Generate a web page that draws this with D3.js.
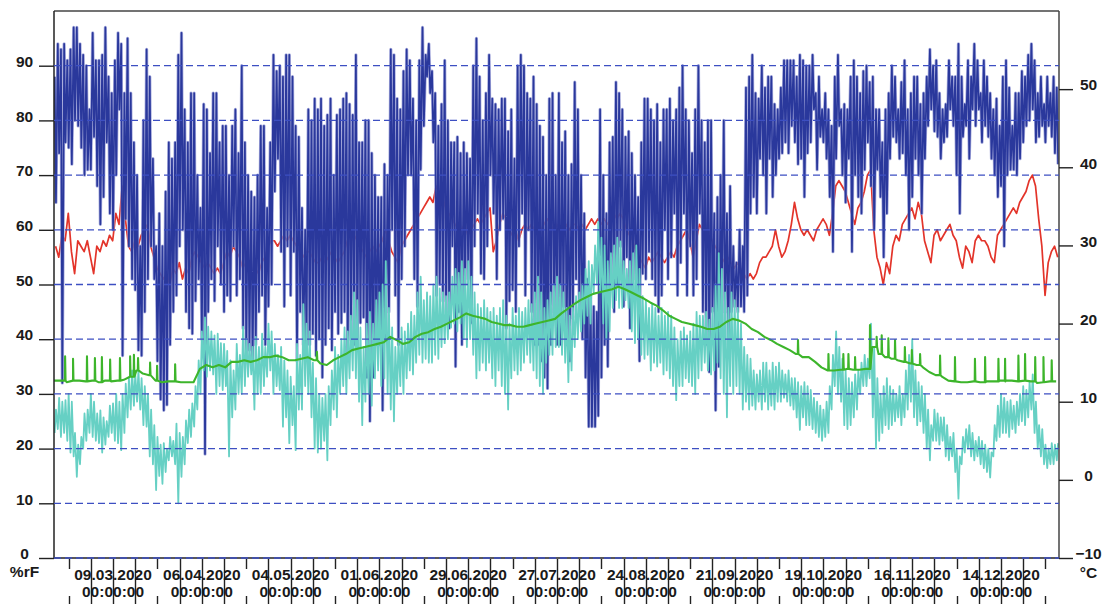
<!DOCTYPE html>
<html><head><meta charset="utf-8">
<script src="https://cdn.jsdelivr.net/npm/d3@7"></script>
<style>
html,body{margin:0;padding:0;background:#fff;}
svg{display:block;}
text{font-family:"Liberation Sans",Arial,sans-serif;font-weight:bold;fill:#1a1a1a;}
</style></head><body>
<svg id="chart" width="1105" height="604"></svg>
<script>
// ---- data ----
const startTime = "2020-02-19T09:20:00";
const endTime = "2021-01-01T07:00:00";
const humidityTicks = [0,10,20,30,40,50,60,70,80,90];
const tempTicks = [-10,0,10,20,30,40,50];
const dateLabels = ["09.03.2020","06.04.2020","04.05.2020","01.06.2020","29.06.2020","27.07.2020","24.08.2020","21.09.2020","19.10.2020","16.11.2020","14.12.2020"];
const timeLabel = "00:00:00";
const leftUnit = "%rF";
const rightUnit = "°C";

// outdoor humidity (%rF): daily high / low
const blueHigh = [88,94,93,94,91,93,97,97,94,92, 90,82,96,91,91,92,97,88,85,91, 96,94,85,95,85,76,70,57,80,93, 88,73,57,63,57,67,76,73,76,92, 96,82,76,85,85,70,64,83,82,74, 85,85,76,79,79,70,79,82,74,90, 76,70,67,66,70,79,79,64,76,92, 89,90,88,92,92,88,79,77,64,60,
82,80,84,82,84,79,81,84,70,81,82,84,85,83,81,92, 76,76,80,80,74,70,66,66, 72, 70,93,92,84,82,89,93,91,84,80,91,97,92,94,89,85,79,83,91, 80, 76,76,77,74,76,74,73,90,95,88,80,85,92,84,83,82,84,84, 78, 82,73,90,92,90,85,84,88,83,79,77,70, 84,85,70,
85,76,78,70,72,87,82,70,63,51, 48, 46,45,82,70,63,76,77,87,85,82,77,78,74,70,66,76,84,84,82, 80, 83,76,82,82,84,80,82,86,90,82,80,74,82,90,80,76,80,80,63, 66, 70,80,63,68,57,54,60,57,86,88,92,85,84,90,86,88,88,83,82, 86, 91,91,91,91,88,92,91,90,
90,92,85,88,82,85,82,79,88,92,82,83,82,88,91,88,85,89,90, 87, 88,82,82,76,82,85,90,88,82,87,91,82,85,88,88,83,85,88,93, 90, 91,85,82,83,91,88,88,94,88,83,91,88,94,91,85,91,88,85,82, 84, 79,88,91,86,79,85,85,89,88,92,94,91,85,88,83,88,85,88, 86];
const blueLow = [65,74,32,76,75,72,80,79,75,70, 71,71,77,68,61,66,76,63,60,70, 82,37,62,57,51,49,38,37,45,51, 57,51,36,29,27,28,39,45,48,57, 60,45,42,41,47,51,40,19,45,51, 47,57,50,45,48,47,57,48,51,42, 37,38,36,39,45,48,39,46,50,67, 73,56,46,57,48,56,36,45,39,39,
39,41,37,40,33,39,42,38,45,41,43,45,36,40,39,39, 43,44,33,25,33,39,39,27, 40, 45,60,48,39,51,57,70,70,51,46,71,79,88,85,76,48,50,47,45, 42, 57,35,45,39,50,51,43,57,63,52,51,57,70,63,51,60,62,42, 47, 49,45,57,63,48,60,45,39,39,36,33,31, 39,45,39,
39,46,39,36,44,51,45,40,33,24, 24, 24,26,33,39,35,50,45,50,57,46,55,42,51,49,36,52,51,56,51, 48, 45,48,60,51,55,63,48,54,63,48,57,48,51,63,45,39,34,45,27, 35, 42,45,39,45,46,45,46,45,48,63,66,63,73,70,63,73,66,70,73, 74, 76,74,79,76,72,73,66,74,
76,82,71,77,76,73,66,56,73,79,70,65,73,56,70,66,63,71,76, 68, 60,71,66,55,63,73,77,76,73,74,70,60,66,73,70,63,73,79,82, 78, 77,73,76,77,82,79,70,63,77,79,73,82,79,82,76,79,77,73,70, 66, 68,57,70,71,71,70,73,76,79,80,82,76,77,79,76,79,77,74, 72];

// indoor humidity (%rF): daily
const redDaily = [57,55,59,58,63,56,52,58,57,56, 58,55,52,57,56,58,57,59,58,63, 61,68,62,57,56,58,57,59,60,61, 57,55,53,52,51,52,50,53,52,54, 51,53,52,55,56,55,54,53,54,53, 52,53,52,54,56,55,57,56,55,53, 54,52,51,53,52,54,55,57,58,58, 57,58,59,58,59,58,57,56,55,56,
56,55,54,54,55,54,55,56,55,54, 55,56,58,59,58,59,57,56,55,56, 57,56,57,58,60,58,56,55,54,57, 58,59,60,61,62,63,64,65,66,65, 68,67,66,64,63,62,61,60,60,61, 59,60,61,62,61,62,63,64,56,58, 61,63,62,60,59,60,58,60,61,60, 61,60,61,60,61,62,61,60,61,60,
60,61,60,61,61,60,61,60,61,62, 61,62,61,62,61,62,63,62,63,62, 60,59,58,56,55,54,53,55,54,55, 56,55,54,55,56,55,57,58,59,60, 58,55,58,61,60,59,60,58,57,56, 55,54,55,54,53,54,53,52,51,52, 51,52,54,55,55,56,57,60,57,55, 56,58,61,65,62,60,59,60,
59,58,60,61,62,61,59,63,68,69, 68,67,65,63,61,64,65,67,70,71, 60,55,53,50,54,52,57,59,58,61, 62,63,64,62,65,63,58,56,54,59, 60,58,59,60,61,59,58,55,53,57, 56,54,58,59,58,58,57,55,54,59, 60,61,62,63,64,63,65,66,67,69, 70,68,62,57,48,54,56,57,55];

// outdoor temperature (°C): daily min / max
const cyanMin = [6.0,6.5,5.5,6.0,5.0,3.5,3.0,0.4,2.0,4.0, 5.0,6.0,5.5,5.0,4.7,3.5,4.5,5.5,6.0,5.0, 4.7,3.8,6.0,8.0,9.0,9.5,10.0,9.0,7.0,6.8, 3.0,2.0,-1.3,0.5,-0.5,1.0,2.5,3.0,2.0,-3.0, 0.4,2.0,4.7,5.5,6.8,9.0,11.0,14.0,13.2,14.0, 13.5,11.0,12.0,11.5,12.0,3.0,8.0,9.0,11.0,11.0, 12.0,13.2,13.5,9.0,11.0,11.0,12.0,13.2,14.0,11.0, 12.0,11.5,6.8,8.0,4.7,7.0,3.8,9.0,9.0,12.0,
11.0,8.0,4.0,3.5,4.0,5.0,2.5,7.0,9.0,8.0, 11.0,12.0,11.0,13.0,14.0,13.0,10.0,7.0,10.0,11.0, 9.5,13.0,14.0,12.0,13.0,11.0,9.0,7.5,11.0,12.0, 11.0,13.0,14.0,13.5,15.0,16.0,15.0,15.5,15.0,15.0, 16.0,15.5,17.0,17.5,18.0,19.5,20.0,19.0,20.0,18.0, 17.0,18.0,16.0,13.0,14.0,15.0,14.0,15.0,13.0,12.0, 14.0,12.0,11.0,9.0,13.0,14.0,13.5,14.0,15.0,16.0, 15.0,14.0,13.0,12.0,11.0,15.0,16.0,16.0,17.0,17.0,
16.0,15.0,12.5,14.0,17.0,18.0,19.0,20.0,21.0,20.0, 24.0,25.0,24.0,20.0,18.0,19.0,22.0,23.0,22.0,22.0, 23.0,22.0,19.0,17.5,18.0,16.0,15.5,16.0,14.0,15.0, 14.5,15.0,13.5,14.0,13.0,12.0,10.2,12.0,12.0,13.0, 12.5,12.0,11.0,13.0,14.0,15.0,14.0,13.5,14.0,15.0, 13.0,11.0,8.0,12.0,11.0,12.0,11.0,9.0,10.0,9.0, 9.5,9.0,10.0,9.0,10.0,9.0,9.5,9.0,10.0,10.0, 10.5,10.0,9.5,9.0,8.0,6.4,8.0,7.0,
7.0,6.5,6.0,5.5,5.0,5.5,6.0,9.0,12.0,11.0, 10.0,7.0,6.5,7.0,8.0,9.0,11.0,12.0,12.0,13.0, 8.0,4.0,5.0,6.0,7.0,6.5,7.0,7.5,8.0,7.0, 8.0,9.0,10.0,8.0,7.0,7.5,6.0,4.0,2.5,5.0, 5.0,4.5,5.0,3.0,2.5,3.0,1.0,-2.4,2.0,3.5, 4.0,3.0,2.5,3.0,2.0,1.5,1.0,0.3, 3.0,5.0,5.5,6.0,6.0,5.5,6.5,6.0,7.0,7.5,7.0,8.0,9.0,6.0,4.0,3.0,2.0,1.5,2.0,2.0,2.5];
const cyanMax = [9.0,10.5,10.0,10.2,11.0,10.0,6.0,4.5,5.5,8.5, 9.0,11.0,10.0,8.5,8.9,8.0,7.5,9.5,9.8,11.0, 10.0,11.0,12.3,13.0,14.0,13.5,14.0,13.0,12.0,11.0, 9.0,7.0,5.5,4.5,4.7,4.0,5.5,5.0,7.2,6.0, 5.5,7.6,9.0,9.8,12.0,15.3,19.0,20.8,19.6,19.0, 18.5,18.7,17.5,17.4,16.5,15.3,14.0,17.4,16.0,19.6, 18.0,17.4,17.0,18.3,17.0,18.7,17.0,20.0,19.0,17.4, 16.0,17.0,15.3,14.0,13.2,12.0,17.4,16.0,22.5,20.0,
19.0,15.0,13.0,11.0,10.5,11.0,12.0,14.0,17.0,16.0, 18.0,19.5,19.0,21.0,24.0,23.0,19.5,17.0,20.0,21.5, 20.0,23.0,24.0,25.0,28.0,22.0,19.5,17.0,18.0,19.5, 19.0,20.0,21.5,21.0,24.0,26.0,23.0,24.0,23.5,25.0, 26.0,24.5,24.0,23.5,24.0,26.0,27.0,26.5,28.0,27.0, 28.0,26.0,24.0,22.5,22.0,23.0,22.0,21.5,22.0,21.0, 22.0,23.0,21.0,20.0,22.0,21.0,22.0,21.5,22.0,23.0, 22.5,24.0,26.0,24.0,22.0,23.0,24.0,25.0,26.0,25.0,
24.0,22.0,21.0,22.0,23.5,24.0,25.0,27.0,28.0,27.5, 30.0,33.0,31.0,30.0,28.0,29.0,30.0,31.0,30.5,28.0, 27.0,28.0,29.0,30.0,27.0,23.5,23.0,22.0,22.5,22.0, 21.0,22.0,21.0,21.5,21.0,19.5,18.0,19.0,19.5,18.5, 19.0,20.0,21.5,21.0,21.0,21.5,20.5,22.0,25.0,29.0, 27.0,24.0,22.0,24.0,23.0,22.0,20.0,17.0,16.0,15.5, 14.0,13.5,14.0,15.0,15.0,14.0,15.0,14.5,15.0,14.0, 13.5,14.0,13.0,13.0,12.5,12.0,12.5,12.0,
11.5,10.5,10.0,9.5,9.0,10.0,12.0,16.0,19.0,17.0, 15.5,14.0,13.0,12.5,13.5,14.0,15.0,16.0,15.5,20.0, 17.0,13.0,11.0,12.0,13.0,12.0,11.5,11.0,12.0,11.0, 14.0,16.0,18.0,14.0,12.5,12.0,11.0,9.0,7.0,9.0, 8.5,8.0,8.0,7.0,5.5,6.0,4.0,3.0,5.5,6.5, 7.0,6.0,5.0,5.5,5.0,4.5,4.0,3.5, 7.0,9.5,11.0,10.5,10.0,10.2,9.5,10.0,11.0,12.0,11.5,12.5,13.5,10.0,7.0,6.5,4.5,4.0,4.7,4.5,4.7];

// indoor temperature (°C): every second day, plus short heating spikes [day, peak]
const greenBase = [12.7,12.7,12.5,12.7,12.7,12.6,12.7,12.5,12.7,12.6, 12.7,12.8,13.2,14.0,13.6,13.4,12.7,12.5,12.6,12.6, 12.5,12.5,12.5,14.2,14.7,14.4,14.7,14.4,15.1,15.1, 15.3,15.1,15.3,15.7,15.7,15.9,15.7,15.3,15.3,15.5,
15.7,15.3,14.9,14.7,15.3,15.7,16.1,16.6,16.8,17.0, 17.2,17.4,17.6,18.3,17.9,17.4,17.6,18.3,18.7,18.9, 19.3,19.6,20.0,20.4,20.8,21.3,21.0,20.8,20.6,20.2, 20.0,19.8,19.8,19.6,19.6,19.8,20.0,20.2,20.4,20.6,
21.3,21.9,22.5,23.0,23.4,23.8,24.0,24.2,24.4,24.7, 24.4,24.0,23.6,23.2,22.7,22.3,21.7,21.0,20.6,20.2, 20.0,19.8,19.6,19.3,19.3,19.6,20.2,20.6,20.4,20.0, 19.3,18.9,18.3,17.9,17.4,17.0,16.6,16.1,15.7,
15.7,15.1,14.4,14.0,14.0,14.1,14.2,14.1,14.1,14.2, 17.0,16.1,15.7,15.5,15.3,15.1,14.9,14.7,14.4,13.8, 13.4,13.2,12.7,12.6,12.5,12.5,12.6,12.5,12.6,12.6, 12.7,12.6,12.7,12.6,12.7,12.6,12.4,12.5,12.6,12.6];
const greenSpikes = [[3.5,15.8],[6.0,15.5],[10.4,15.8],[12.9,15.6],[15.1,15.7],[17.7,15.4],[20.8,15.6],[24.0,15.8],[25.2,16.0],[26.5,15.6],[30.3,15.0],[32.5,14.6],[38.2,14.8],[82.9,16.4],[234.6,17.9],
[244.2,16.1],[248.9,16.1],[250.5,16.1],[252.6,15.7],[257.3,19.8],[259.4,18.3],[261.0,18.5],[263.1,18.1],[265.2,17.9],[268.3,17.0],[270.5,16.6],[273.1,16.1],[279.4,15.9],[284.1,15.7],[290.4,15.5],[293.6,15.7],[297.8,15.5],[299.9,15.5],[304.1,15.9],[306.2,16.1],[309.4,15.7],[312.0,15.7],[314.6,15.3]];

// ---- chart ----
const parseT = d3.timeParse("%Y-%m-%dT%H:%M:%S");
const parseD = d3.timeParse("%d.%m.%Y");
const t0 = parseT(startTime), t1 = parseT(endTime);
const DAY = 864e5;
const tAt = d => new Date(t0.getTime() + d * DAY);

const svg = d3.select("#chart");
const M = {l: 54, r: 1059, t: 11, b: 558};
const x = d3.scaleTime().domain([t0, t1]).range([M.l, M.r]);
const yH = d3.scaleLinear().domain([0, 100]).range([M.b, M.t]);
const yT = d3.scaleLinear().domain([-10, 60]).range([M.b, M.t]);

svg.append("rect").attr("width", 1105).attr("height", 604).attr("fill", "#fff");
svg.append("clipPath").attr("id", "clip").append("rect")
  .attr("x", M.l).attr("y", M.t).attr("width", M.r - M.l).attr("height", M.b - M.t);

const blueData = blueHigh.flatMap((h, d) => [{t: tAt(d + 0.2), v: h}, {t: tAt(d + 0.62), v: blueLow[d]}]);
const cyanData = cyanMin.flatMap((m, d) => [{t: tAt(d + 0.2), v: m}, {t: tAt(d + 0.62), v: cyanMax[d]}]);
const redData = redDaily.map((v, d) => ({t: tAt(d + 0.5), v}));
let greenPts = greenBase.map((v, i) => ({d: i * 2, v}));
greenSpikes.forEach(([s, p]) => {
  const b = greenBase[Math.min(greenBase.length - 1, Math.floor(s / 2))];
  greenPts.push({d: s - 0.07, v: b}, {d: s, v: p}, {d: s + 0.14, v: b});
});
greenPts.sort((a, b) => a.d - b.d);
const greenData = greenPts.map(p => ({t: tAt(p.d), v: p.v}));

const lineH = d3.line().x(d => x(d.t)).y(d => yH(d.v));
const lineT = d3.line().x(d => x(d.t)).y(d => yT(d.v));

const plot = svg.append("g").attr("clip-path", "url(#clip)");
plot.append("path").datum(redData).attr("d", lineH).attr("fill", "none")
  .attr("stroke", "#e3342a").attr("stroke-width", 1.7).attr("stroke-linejoin", "round");
plot.append("path").datum(blueData).attr("d", lineH).attr("fill", "none")
  .attr("stroke", "#8d93d3").attr("stroke-width", 3.2).attr("stroke-linejoin", "round").attr("stroke-opacity", 0.75);
plot.append("path").datum(blueData).attr("d", lineH).attr("fill", "none")
  .attr("stroke", "#2a389c").attr("stroke-width", 1.7).attr("stroke-linejoin", "round");
plot.append("path").datum(cyanData).attr("d", lineT).attr("fill", "none")
  .attr("stroke", "#66d0c4").attr("stroke-width", 1.8).attr("stroke-linejoin", "round");
plot.append("path").datum(greenData).attr("d", lineT).attr("fill", "none")
  .attr("stroke", "#3db52b").attr("stroke-width", 2.1).attr("stroke-linejoin", "round");

// frame
const frame = svg.append("g").attr("stroke", "#222").attr("stroke-width", 1.5);
frame.append("line").attr("x1", M.l).attr("x2", M.r).attr("y1", M.t).attr("y2", M.t).attr("stroke", "#444");
frame.append("line").attr("x1", M.l).attr("x2", M.l).attr("y1", M.t).attr("y2", M.b);
frame.append("line").attr("x1", M.r).attr("x2", M.r).attr("y1", M.t).attr("y2", M.b).attr("stroke", "#444");
frame.append("line").attr("x1", M.l).attr("x2", M.r).attr("y1", M.b).attr("y2", M.b);

// grid (dashed, drawn on top)
svg.append("g").selectAll("line").data(humidityTicks).join("line")
  .attr("x1", M.l).attr("x2", M.r).attr("y1", d => yH(d)).attr("y2", d => yH(d))
  .attr("stroke", "#3d4fc2").attr("stroke-width", 1.3).attr("stroke-dasharray", "7,4");

// left axis
const gL = svg.append("g").attr("transform", `translate(${M.l},0)`)
  .call(d3.axisLeft(yH).tickValues(humidityTicks).tickSize(15).tickFormat(d3.format("d")));
gL.attr("font-size", null).attr("font-family", null);
gL.select(".domain").remove();
gL.selectAll(".tick line").attr("stroke", "#222").attr("stroke-width", 1.4);
gL.selectAll(".tick text").attr("x", 24.5 - M.l).attr("dy", "0.05em").attr("text-anchor", "middle")
  .style("font-size", "15.5px").attr("fill", "#1a1a1a");

// right axis
const gR = svg.append("g").attr("transform", `translate(${M.r},0)`)
  .call(d3.axisRight(yT).tickValues(tempTicks).tickSize(14).tickFormat(d3.format("d")));
gR.attr("font-size", null).attr("font-family", null);
gR.select(".domain").remove();
gR.selectAll(".tick line").attr("stroke", "#222").attr("stroke-width", 1.4);
gR.selectAll(".tick text").attr("x", 1088.5 - M.r).attr("dy", "0.05em").attr("text-anchor", "middle")
  .style("font-size", "15.5px").attr("fill", "#1a1a1a");

// units
svg.append("text").attr("x", 24.5).attr("y", 577).attr("text-anchor", "middle").style("font-size", "15.5px").text(leftUnit);
svg.append("text").attr("x", 1088.5).attr("y", 578).attr("text-anchor", "middle").style("font-size", "15.5px").text(rightUnit);

// bottom axis: weekly ticks, labels every 4 weeks
const firstLabel = parseD(dateLabels[0]);
const mondays = d3.timeMonday.range(t0, t1);
const gB = svg.append("g").attr("stroke", "#222").attr("stroke-width", 1.4);
mondays.forEach(m => {
  const k = Math.round((m - firstLabel) / (7 * DAY));
  const xx = Math.round(x(m)) + 0.5;
  const kk = ((k % 4) + 4) % 4;
  if (kk === 2) {
    gB.append("line").attr("x1", xx).attr("x2", xx).attr("y1", 559).attr("y2", 569);
    gB.append("line").attr("x1", xx).attr("x2", xx).attr("y1", 596).attr("y2", 604);
  } else {
    gB.append("line").attr("x1", xx).attr("x2", xx).attr("y1", 559).attr("y2", 604);
  }
});
const gLab = svg.append("g");
dateLabels.forEach(s => {
  const xx = x(parseD(s));
  gLab.append("text").attr("x", xx).attr("y", 580).attr("text-anchor", "middle").style("font-size", "15.5px").text(s);
  gLab.append("text").attr("x", xx).attr("y", 597).attr("text-anchor", "middle").style("font-size", "15.5px").text(timeLabel);
});
</script>
</body></html>
